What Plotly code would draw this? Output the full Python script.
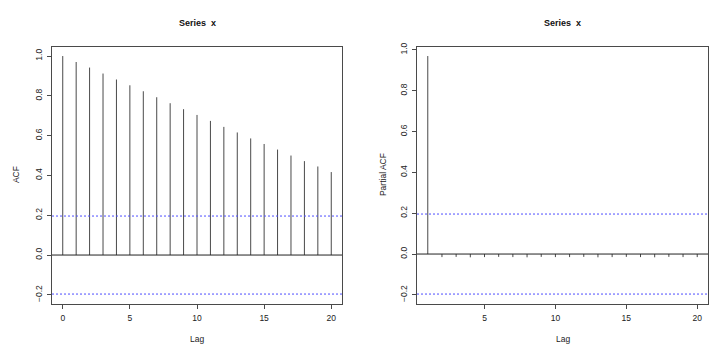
import plotly.graph_objects as go

# ---- data ----
acf_lags = list(range(0, 21))
acf_vals = [1.000, 0.970, 0.942, 0.912, 0.882, 0.853, 0.823, 0.793, 0.763, 0.733,
            0.704, 0.674, 0.644, 0.616, 0.586, 0.558, 0.530, 0.500, 0.472, 0.445, 0.417]
pacf_lags = list(range(1, 21))
pacf_vals = [0.970, -0.015, -0.014, -0.016, -0.015, -0.014, -0.015, -0.016, -0.014, -0.015,
             -0.015, -0.014, -0.016, -0.015, -0.014, -0.015, -0.016, -0.014, -0.015, -0.015]
n_obs = 100
ci = 1.96 / n_obs ** 0.5
y_ticks = [-0.2, 0.0, 0.2, 0.4, 0.6, 0.8, 1.0]
acf_xticks = [0, 5, 10, 15, 20]
pacf_xticks = [5, 10, 15, 20]
title_text = "Series  x"

W, H = 722, 354
FONT = "Liberation Sans, Arial, sans-serif"
LINE = "#4a4a4a"


def spikes(lags, vals):
    xs, ys = [], []
    for l, v in zip(lags, vals):
        xs += [l, l, None]
        ys += [0, v, None]
    return xs, ys


def rrange(lo, hi):
    d = (hi - lo) * 0.04
    return [lo - d, hi + d]


fig = go.Figure()

ax, ay = spikes(acf_lags, acf_vals)
fig.add_trace(go.Scatter(x=ax, y=ay, mode="lines", line=dict(color=LINE, width=1),
                         xaxis="x", yaxis="y", hoverinfo="skip", showlegend=False))
px_, py_ = spikes(pacf_lags, pacf_vals)
fig.add_trace(go.Scatter(x=px_, y=py_, mode="lines", line=dict(color=LINE, width=1),
                         xaxis="x2", yaxis="y2", hoverinfo="skip", showlegend=False))

# domains (paper fractions)
L_dom = [52 / W, 342 / W]
R_dom = [417 / W, 708 / W]
Y_dom = [1 - 303 / H, 1 - 43 / H]

acf_yr = rrange(min(min(acf_vals), -ci), max(max(acf_vals), ci))
pacf_yr = rrange(min(min(pacf_vals), -ci), max(max(pacf_vals), ci))

common_axis = dict(showline=True, mirror=True, linecolor=LINE, linewidth=1,
                   ticks="outside", ticklen=4, tickcolor=LINE, tickwidth=1,
                   showgrid=False, zeroline=False, ticklabelstandoff=2,
                   tickfont=dict(family=FONT, size=8.5, color="#222"))

fig.update_layout(
    width=W, height=H, margin=dict(l=0, r=0, t=0, b=0),
    paper_bgcolor="white", plot_bgcolor="white",
    xaxis=dict(domain=L_dom, anchor="y", range=rrange(0, 20), tickvals=acf_xticks,
               **common_axis),
    yaxis=dict(domain=Y_dom, anchor="x", range=acf_yr, tickvals=y_ticks,
               tickformat=".1f", tickangle=-90, **common_axis),
    xaxis2=dict(domain=R_dom, anchor="y2", range=rrange(1, 20), tickvals=pacf_xticks,
                **common_axis),
    yaxis2=dict(domain=Y_dom, anchor="x2", range=pacf_yr, tickvals=y_ticks,
                tickformat=".1f", tickangle=-90, **common_axis),
)

# horizontal reference lines
for xr, yr in (("x", "y"), ("x2", "y2")):
    dom = "x domain" if xr == "x" else "x2 domain"
    fig.add_shape(type="line", xref=dom, yref=yr, x0=0, x1=1, y0=0, y1=0,
                  line=dict(color="#222", width=1))
    for s in (ci, -ci):
        fig.add_shape(type="line", xref=dom, yref=yr, x0=0, x1=1, y0=s, y1=s,
                      line=dict(color="#4d4dff", width=1, dash="2px,2px"))

# titles and labels
for cx, lab in (((L_dom[0] + L_dom[1]) / 2, "ACF"), ((R_dom[0] + R_dom[1]) / 2, "Partial ACF")):
    fig.add_annotation(text="<b>" + title_text + "</b>", xref="paper", yref="paper",
                       x=cx, y=1 - 19 / H, showarrow=False, xanchor="center", yanchor="middle",
                       font=dict(family=FONT, size=9, color="#111"))
    fig.add_annotation(text="Lag", xref="paper", yref="paper",
                       x=cx, y=1 - 339 / H, showarrow=False, xanchor="center", yanchor="middle",
                       font=dict(family=FONT, size=8.5, color="#222"))

yc = 1 - 173 / H
fig.add_annotation(text="ACF", xref="paper", yref="paper", x=16 / W, y=yc, textangle=-90,
                   showarrow=False, xanchor="center", yanchor="middle",
                   font=dict(family=FONT, size=8.5, color="#222"))
fig.add_annotation(text="Partial ACF", xref="paper", yref="paper", x=383 / W, y=yc, textangle=-90,
                   showarrow=False, xanchor="center", yanchor="middle",
                   font=dict(family=FONT, size=8.5, color="#222"))

fig.write_html("out.html")
